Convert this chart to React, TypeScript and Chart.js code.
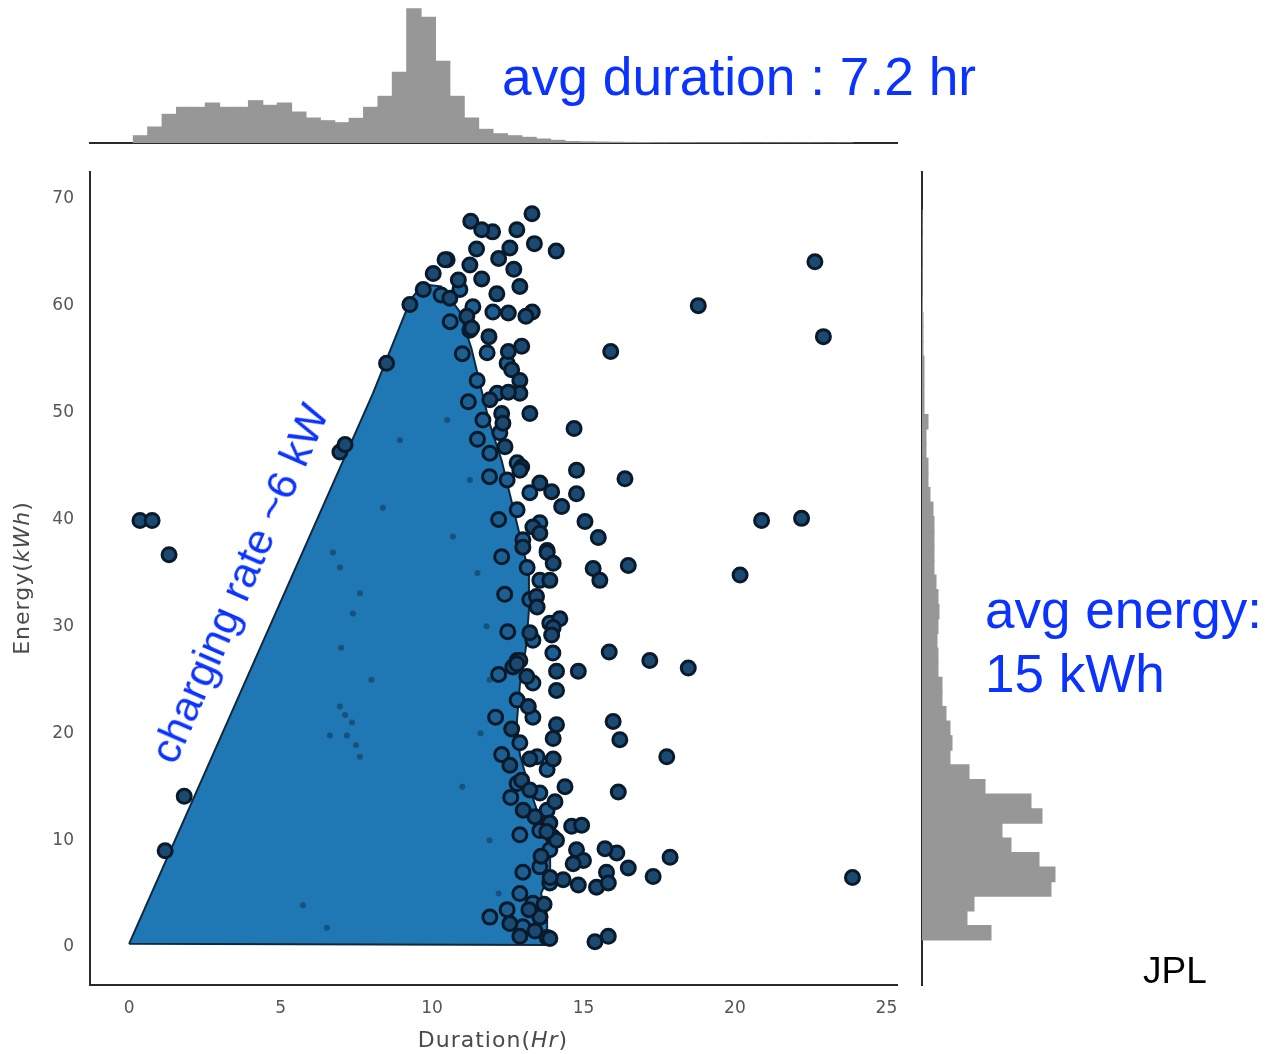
import { useEffect, useRef } from "react";
import { Chart, registerables } from "chart.js";

Chart.register(...registerables);

// ---- axes ----
const durationTicks = [0, 5, 10, 15, 20, 25];
const energyTicks = [0, 10, 20, 30, 40, 50, 60, 70];
const durationMin = -1.29;
const durationMax = 25.35;
const energyMin = -3.55;
const energyMax = 72.5;

// ---- marginal histogram of duration (hr) ----
const durationBinStart = 0.14;
const durationBinWidth = 0.475;
const durationCounts = [
  73, 160, 287, 357, 357, 400, 357, 357, 423, 377, 400, 310, 250, 223, 203, 247, 357, 467, 707, 1343,
  1257, 817, 467, 250, 137, 93, 73, 57, 40, 27, 15, 12, 10, 8, 6, 5, 4, 3, 3, 2,
  2, 2, 1, 1, 1, 1, 1, 1, 0, 1,
];

// ---- marginal histogram of energy (kWh) ----
const energyBinStart = 0.65;
const energyBinWidth = 1.366;
const energyCounts = [
  690, 450, 520, 1290, 1330, 1170, 890, 800, 1200, 1090, 630, 470, 280, 300, 280, 240, 200, 200, 160, 160,
  150, 160, 170, 160, 140, 120, 120, 120, 120, 110, 80, 60, 60, 40, 40, 60, 20, 20, 20, 20,
  10, 10, 10, 5, 3, 3, 2, 2, 1, 1,
];

// ---- dense body of sessions (outline, duration hr / energy kWh) ----
const massOutline: [number, number][] = [
  [0.0, 0.3], [13.8, 0.2], [13.8, 3.0], [13.6, 5.0], [13.9, 7.0], [13.9, 9.5], [13.5, 12.5],
  [13.2, 15.0], [12.9, 18.0], [12.8, 21.0], [12.9, 24.5], [13.1, 28.0], [13.2, 31.5], [13.2, 35.0],
  [12.9, 38.5], [12.6, 42.0], [12.3, 45.5], [11.9, 49.0], [11.6, 52.5], [11.3, 56.0], [10.9, 59.5],
  [10.3, 61.8], [9.7, 62.0], [9.3, 60.6], [8.05, 51.8], [0.0, 0.3],
];

// ---- sessions along the ragged right edge of the body ----
const fringePoints: [number, number][] = [
  [10.5, 64.3], [10.92, 61.5], [11.35, 59.9], [12.01, 59.4], [11.25, 57.7], [11.82, 55.6], [12.48, 54.6],
  [11.49, 53.0], [12.15, 51.8], [11.68, 49.3], [12.24, 48.1], [11.91, 46.2], [12.81, 45.3], [12.48, 43.7],
  [13.23, 42.5], [12.81, 40.9], [13.56, 39.7], [13.0, 38.1], [13.8, 37.1], [13.14, 35.5], [13.56, 34.3],
  [13.23, 32.5], [13.89, 30.3], [13.33, 28.7], [13.99, 27.5], [12.81, 26.8], [13.33, 24.7], [12.81, 23.1],
  [13.33, 21.5], [12.9, 19.1], [13.47, 17.8], [13.8, 16.6], [12.81, 15.3], [13.56, 14.4], [13.8, 12.8],
  [13.56, 10.9], [13.99, 10.3], [13.89, 9.1], [13.56, 7.5], [13.89, 6.0], [13.33, 4.1], [13.56, 2.8],
  [13.8, 0.9], [13.0, 1.9], [12.48, 3.5], [11.91, 2.8],
  [10.3, 61.0], [10.6, 58.5], [11.0, 55.5], [11.2, 51.0], [11.5, 47.5], [11.9, 44.0], [12.2, 40.0],
  [12.3, 36.5], [12.4, 33.0], [12.5, 29.5], [12.2, 25.5], [12.1, 21.5], [12.3, 18.0], [12.6, 14.0],
  [12.9, 10.5], [13.0, 7.0], [12.9, 5.0],
];

// ---- individual visible sessions (duration hr, energy kWh) ----
const sessionPoints: [number, number][] = [
  [0.36, 39.9], [0.76, 39.9], [1.32, 36.7], [1.82, 14.1], [1.19, 9.0],
  [18.79, 60.0], [22.64, 64.1], [22.92, 57.1], [15.9, 55.7], [14.69, 48.5], [14.77, 44.6], [16.37, 43.8],
  [14.77, 42.4], [15.05, 39.8], [15.49, 38.3], [16.48, 35.7], [15.32, 35.4], [15.54, 34.3], [20.88, 39.9],
  [22.2, 40.1], [20.17, 34.8], [15.85, 27.6], [17.19, 26.8], [18.46, 26.1], [14.11, 25.8], [14.83, 25.8],
  [14.11, 24.0], [15.98, 21.1], [16.2, 19.4], [17.75, 17.8], [14.11, 20.8], [14.0, 19.5], [16.15, 14.5],
  [14.06, 13.6], [14.39, 15.0], [23.88, 6.5], [17.86, 8.4], [17.3, 6.6], [16.48, 7.4], [16.1, 8.8],
  [15.71, 9.2], [15.76, 7.0], [14.33, 6.3], [14.83, 5.8], [15.43, 5.6], [15.82, 6.0], [14.61, 11.3],
  [14.94, 11.4], [14.11, 10.0], [14.77, 9.1], [15.0, 8.1], [14.66, 7.8], [15.38, 0.5], [15.82, 1.0],
  [13.89, 0.8],
  [13.3, 68.6], [11.28, 67.9], [12.0, 66.9], [11.64, 67.1], [12.8, 67.1], [13.38, 65.8], [14.1, 65.1],
  [12.57, 65.4], [12.2, 64.4], [11.47, 65.3], [10.43, 64.3], [12.7, 63.4], [11.64, 62.5], [11.25, 63.8],
  [12.9, 61.8], [12.14, 61.1], [10.87, 62.4], [10.04, 63.0], [9.71, 61.5], [10.59, 60.7], [9.27, 60.1],
  [13.31, 59.4], [13.1, 59.0], [12.52, 59.3], [11.15, 59.0], [11.88, 57.1], [11.31, 57.9], [12.96, 56.2],
  [12.52, 55.7], [8.5, 54.6],
  [12.63, 54.0], [12.9, 53.0], [12.9, 51.8], [12.52, 51.9], [11.91, 51.2], [13.23, 49.9], [12.3, 49.9],
  [12.41, 46.8], [12.96, 44.9], [13.56, 43.4], [13.95, 42.6], [14.28, 41.2], [12.34, 49.0], [12.9, 44.6],
  [13.33, 39.3], [13.0, 37.4], [13.8, 36.9], [13.56, 38.7], [14.0, 35.9], [13.89, 34.3], [13.45, 32.8],
  [13.47, 31.8], [14.22, 30.7], [14.0, 29.9], [13.95, 29.2], [13.23, 29.4], [12.9, 26.8], [12.67, 26.2],
  [12.8, 26.5], [13.13, 25.3], [13.18, 22.5], [12.63, 20.4], [12.57, 17.0], [13.23, 17.6], [14.0, 17.6],
  [12.96, 15.6], [13.23, 14.7], [13.4, 12.2], [13.89, 11.6], [13.01, 12.8], [13.79, 10.8], [13.56, 2.8],
  [12.57, 2.2], [6.96, 46.3], [7.13, 47.0], [13.4, 1.5], [13.7, 4.0], [13.9, 6.5], [13.6, 8.5],
  [12.9, 1.0], [13.2, 3.5],
];

// ---- darker overlaps inside the dense body ----
const overlapPoints: [number, number][] = [
  [6.96, 22.5], [7.13, 21.7], [7.36, 21.0], [7.19, 19.8], [7.49, 18.9], [7.62, 17.8], [6.63, 19.8],
  [5.74, 3.9], [6.53, 1.8], [6.73, 36.9], [6.96, 35.5], [8.38, 41.1], [8.94, 47.4], [7.39, 31.2],
  [7.62, 33.1], [10.5, 49.3], [10.69, 38.4], [11.25, 43.7], [8.0, 25.0], [7.0, 28.0], [11.5, 35.0],
  [11.8, 30.0], [11.9, 25.0], [11.6, 20.0], [11.0, 15.0], [11.9, 10.0], [12.2, 5.0],
];

const tickFont = { family: "'DejaVu Sans', sans-serif", size: 17 };
const tickColor = "#555555";
const axisColor = "#2a2a2a";
const histColor = "#979797";
const dotFill = "#1a4a72";
const fringeFill = "#1d5f92";
const dotEdge = "#0a1a2a";

function zeroPad(s: any) {
  s.paddingTop = 0;
  s.paddingBottom = 0;
  s.paddingLeft = 0;
  s.paddingRight = 0;
}

function useChart(ref: React.RefObject<HTMLCanvasElement | null>, make: () => any) {
  useEffect(() => {
    if (!ref.current) return;
    const chart = new Chart(ref.current, make());
    return () => chart.destroy();
  }, []);
}

export default function App() {
  const topRef = useRef<HTMLCanvasElement>(null);
  const mainRef = useRef<HTMLCanvasElement>(null);
  const rightRef = useRef<HTMLCanvasElement>(null);

  useChart(topRef, () => ({
    type: "bar",
    data: {
      datasets: [
        {
          data: durationCounts.map((c, i) => ({ x: durationBinStart + durationBinWidth * (i + 0.5), y: c })),
          backgroundColor: histColor,
          borderWidth: 0,
          inflateAmount: 0.5,
          barPercentage: 1,
          categoryPercentage: 1,
        },
      ],
    },
    options: {
      animation: false,
      responsive: false,
      events: [],
      layout: { padding: { left: 90, right: 13, top: 0, bottom: 7 } },
      plugins: { legend: { display: false }, tooltip: { enabled: false } },
      scales: {
        x: {
          type: "linear",
          min: durationMin,
          max: durationMax,
          offset: false,
          grid: { display: false, drawTicks: false },
          ticks: { display: false },
          border: { display: true, color: axisColor, width: 2 },
          afterFit: (s: any) => { s.height = 0; zeroPad(s); },
        },
        y: { display: false, min: 0, max: 1430 },
      },
    },
  }));

  useChart(mainRef, () => ({
    type: "scatter",
    data: {
      datasets: [
        {
          label: "sessions",
          data: sessionPoints.map(([x, y]) => ({ x, y })),
          backgroundColor: dotFill,
          borderColor: dotEdge,
          borderWidth: 3,
          pointRadius: 7,
          order: 0,
        },
        {
          label: "edge sessions",
          data: fringePoints.map(([x, y]) => ({ x, y })),
          backgroundColor: fringeFill,
          borderColor: dotEdge,
          borderWidth: 3,
          pointRadius: 7,
          order: 1,
        },
        {
          label: "overlaps",
          data: overlapPoints.map(([x, y]) => ({ x, y })),
          backgroundColor: "rgba(8,28,46,0.4)",
          borderWidth: 0,
          pointRadius: 3,
          order: 2,
        },
        {
          label: "dense",
          data: massOutline.map(([x, y]) => ({ x, y })),
          showLine: true,
          fill: "shape",
          backgroundColor: "#1f77b4",
          borderColor: "#10283f",
          borderWidth: 2,
          pointRadius: 0,
          tension: 0,
          order: 3,
        },
      ],
    },
    options: {
      animation: false,
      responsive: false,
      events: [],
      layout: { padding: { left: 0, top: 12, right: 13, bottom: 0 } },
      plugins: { legend: { display: false }, tooltip: { enabled: false } },
      scales: {
        x: {
          type: "linear",
          min: durationMin,
          max: durationMax,
          grid: { display: false, drawTicks: false },
          border: { display: true, color: axisColor, width: 2 },
          ticks: { font: tickFont, color: tickColor, padding: 13 },
          afterBuildTicks: (s: any) => { s.ticks = durationTicks.map((v) => ({ value: v })); },
          afterFit: (s: any) => { s.height = 69; zeroPad(s); },
        },
        y: {
          type: "linear",
          min: energyMin,
          max: energyMax,
          grid: { display: false, drawTicks: false },
          border: { display: true, color: axisColor, width: 2 },
          ticks: { font: tickFont, color: tickColor, padding: 16 },
          afterBuildTicks: (s: any) => { s.ticks = energyTicks.map((v) => ({ value: v })); },
          afterFit: (s: any) => { s.width = 90; zeroPad(s); },
        },
      },
    },
  }));

  useChart(rightRef, () => ({
    type: "bar",
    data: {
      datasets: [
        {
          data: energyCounts.map((c, i) => ({ y: energyBinStart + energyBinWidth * (i + 0.5), x: c })),
          backgroundColor: histColor,
          borderWidth: 0,
          inflateAmount: 0.5,
          barPercentage: 1,
          categoryPercentage: 1,
        },
      ],
    },
    options: {
      indexAxis: "y",
      animation: false,
      responsive: false,
      events: [],
      layout: { padding: { left: 12, right: 0, top: 12, bottom: 69 } },
      plugins: { legend: { display: false }, tooltip: { enabled: false } },
      scales: {
        y: {
          type: "linear",
          min: energyMin,
          max: energyMax,
          offset: false,
          grid: { display: false, drawTicks: false },
          ticks: { display: false },
          border: { display: true, color: axisColor, width: 2 },
          afterFit: (s: any) => { s.width = 0; zeroPad(s); },
        },
        x: { display: false, min: 0, max: 3460 },
      },
    },
  }));

  const blue = "#0a33ff";
  const annot: React.CSSProperties = {
    position: "absolute",
    fontFamily: "'Liberation Sans', Arial, sans-serif",
    color: blue,
    fontSize: 53,
    lineHeight: "53px",
    whiteSpace: "nowrap",
    margin: 0,
  };
  const axisTitle: React.CSSProperties = {
    position: "absolute",
    fontFamily: "'DejaVu Sans', sans-serif",
    color: "#4a4a4a",
    fontSize: 22,
    lineHeight: "22px",
    letterSpacing: 1,
    whiteSpace: "nowrap",
    textAlign: "center",
  };

  return (
    <div
      style={{
        position: "fixed",
        left: 0,
        top: 0,
        width: 1268,
        height: 1054,
        background: "#ffffff",
        overflow: "hidden",
      }}
    >
      <canvas ref={topRef} width={910} height={150} style={{ position: "absolute", left: 0, top: 0, width: 910, height: 150 }} />
      <canvas ref={mainRef} width={910} height={894} style={{ position: "absolute", left: 0, top: 160, width: 910, height: 894 }} />
      <canvas ref={rightRef} width={358} height={894} style={{ position: "absolute", left: 910, top: 160, width: 358, height: 894 }} />

      <div style={{ ...annot, fontSize: 53.3, left: 502, top: 50 }}>avg duration : 7.2 hr</div>
      <div style={{ ...annot, left: 985, top: 583 }}>avg energy:</div>
      <div style={{ ...annot, left: 985, top: 647 }}>15 kWh</div>
      <div
        style={{
          ...annot,
          fontSize: 43,
          lineHeight: "43px",
          left: 182,
          top: 769 - 43,
          transformOrigin: "0% 100%",
          transform: "rotate(-66.5deg)",
        }}
      >
        charging rate ~6 kW
      </div>
      <div style={{ ...annot, color: "#000000", fontSize: 37, lineHeight: "37px", left: 1143, top: 952 }}>JPL</div>

      <div style={{ ...axisTitle, left: 393, top: 1029, width: 200 }}>
        Duration(<i>Hr</i>)
      </div>
      <div
        style={{
          ...axisTitle,
          left: 22 - 100,
          top: 578 - 11,
          width: 200,
          height: 22,
          transform: "rotate(-90deg)",
          transformOrigin: "50% 50%",
        }}
      >
        Energy(<i>kWh</i>)
      </div>
    </div>
  );
}
